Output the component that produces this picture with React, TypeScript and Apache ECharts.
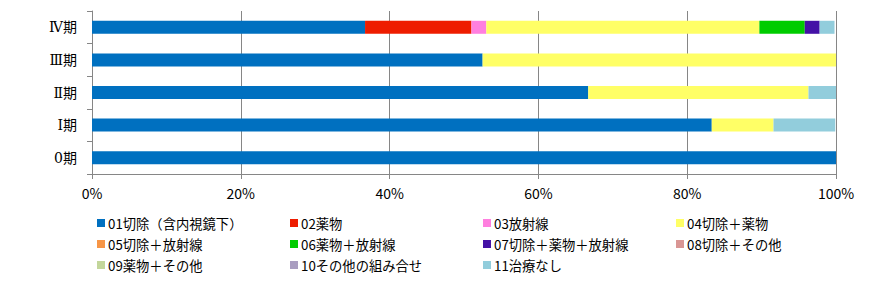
import React, { useEffect, useRef } from "react";
import * as echarts from "echarts";

const categories = ["0期", "Ⅰ期", "Ⅱ期", "Ⅲ期", "Ⅳ期"];
const seriesNames = [
  "01切除（含内視鏡下）",
  "02薬物",
  "03放射線",
  "04切除＋薬物",
  "05切除＋放射線",
  "06薬物＋放射線",
  "07切除＋薬物＋放射線",
  "08切除＋その他",
  "09薬物＋その他",
  "10その他の組み合せ",
  "11治療なし",
];
const seriesColors = [
  "#0070C0", "#EE1C00", "#FF7FDF", "#FFFF66", "#F79646", "#00CC00",
  "#4411A6", "#D99694", "#C3D69B", "#A99DC0", "#92CDDC",
];
// values in %, order: 0期, Ⅰ期, Ⅱ期, Ⅲ期, Ⅳ期
const v01 = [100, 83.3, 66.7, 52.5, 36.7];
const v02 = [0, 0, 0, 0, 14.3];
const v03 = [0, 0, 0, 0, 2.0];
const v04 = [0, 8.3, 29.6, 47.5, 36.7];
const v05 = [0, 0, 0, 0, 0];
const v06 = [0, 0, 0, 0, 6.1];
const v07 = [0, 0, 0, 0, 2.0];
const v08 = [0, 0, 0, 0, 0];
const v09 = [0, 0, 0, 0, 0];
const v10 = [0, 0, 0, 0, 0];
const v11 = [0, 8.3, 3.7, 0, 2.0];
const allValues = [v01, v02, v03, v04, v05, v06, v07, v08, v09, v10, v11];
const xTicks = ["0%", "20%", "40%", "60%", "80%", "100%"];

const legendFont = "'Noto Sans CJK JP', sans-serif";

export default function App() {
  const ref = useRef<HTMLDivElement>(null);
  useEffect(() => {
    document.body.style.margin = "0";
    if (!ref.current) return;
    const chart = echarts.init(ref.current, null, { renderer: "svg" });
    const columns = [
      [0, 4, 8],
      [1, 5, 9],
      [2, 6, 10],
      [3, 7],
    ];
    const colLefts = [97, 290, 483, 676];
    const legends = columns.map((idxs, ci) => ({
      orient: "vertical",
      left: colLefts[ci],
      top: 216,
      itemWidth: 8,
      itemHeight: 8,
      itemGap: 7,
      icon: "rect",
      selectedMode: false,
      data: idxs.map((i) => seriesNames[i]),
      textStyle: {
        fontFamily: legendFont,
        fontSize: 13.3,
        color: "#000",
        lineHeight: 14,
        padding: [0, 0, 0, -2],
      },
      padding: 0,
    }));
    chart.setOption({
      animation: false,
      grid: { left: 92, right: 50, top: 11, bottom: 130, containLabel: false },
      legend: legends,
      xAxis: {
        type: "value",
        min: 0,
        max: 100,
        interval: 20,
        axisLine: { show: true, lineStyle: { color: "#868686", width: 1 } },
        axisTick: { show: true, length: 5, lineStyle: { color: "#868686" } },
        splitLine: { show: true, lineStyle: { color: "#868686", width: 1 } },
        axisLabel: {
          formatter: (v: number) => xTicks[Math.round(v / 20)],
          fontFamily: legendFont,
          fontSize: 14,
          color: "#000",
          margin: 12,
        },
      },
      yAxis: {
        type: "category",
        data: categories,
        axisLine: { show: true, lineStyle: { color: "#868686", width: 1 } },
        axisTick: { show: true, length: 5, lineStyle: { color: "#868686" } },
        axisLabel: {
          fontFamily: "'DejaVu Serif', 'Noto Sans CJK JP', serif",
          fontSize: 14,
          color: "#000",
          margin: 15,
        },
      },
      series: seriesNames.map((name, i) => ({
        name,
        type: "bar",
        stack: "total",
        barWidth: 13,
        data: allValues[i],
        itemStyle: { color: seriesColors[i] },
        emphasis: { disabled: true },
      })),
    });
    return () => chart.dispose();
  }, []);
  return <div ref={ref} style={{ width: 886, height: 304 }} />;
}
